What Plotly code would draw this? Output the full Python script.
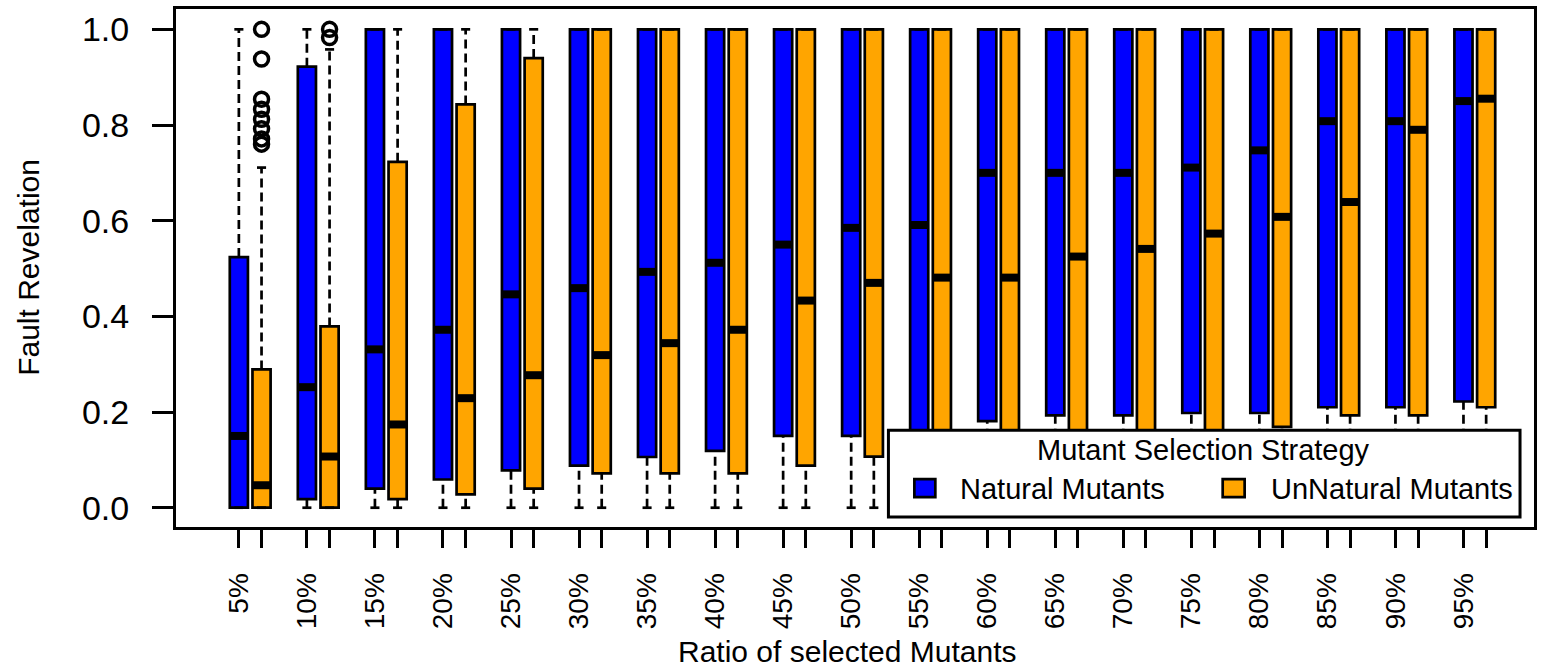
import plotly.graph_objects as go

# ---------------- data ----------------
categories = ["5%", "10%", "15%", "20%", "25%", "30%", "35%", "40%", "45%", "50%",
              "55%", "60%", "65%", "70%", "75%", "80%", "85%", "90%", "95%"]

natural_q1 = [0.0, 0.018, 0.040, 0.059, 0.078, 0.088, 0.106, 0.119, 0.150, 0.150,
              0.160, 0.181, 0.193, 0.193, 0.198, 0.198, 0.210, 0.210, 0.222]
natural_med = [0.150, 0.252, 0.331, 0.372, 0.446, 0.459, 0.493, 0.512, 0.550, 0.585,
               0.591, 0.700, 0.700, 0.700, 0.711, 0.747, 0.808, 0.808, 0.850]
natural_q3 = [0.524, 0.922, 1.0, 1.0, 1.0, 1.0, 1.0, 1.0, 1.0, 1.0,
              1.0, 1.0, 1.0, 1.0, 1.0, 1.0, 1.0, 1.0, 1.0]
natural_lo = [0.0] * 19
natural_hi = [1.0] * 19

unnatural_q1 = [0.0, 0.0, 0.018, 0.028, 0.040, 0.072, 0.072, 0.072, 0.088, 0.107,
                0.130, 0.140, 0.150, 0.150, 0.160, 0.169, 0.193, 0.193, 0.210]
unnatural_med = [0.047, 0.107, 0.174, 0.229, 0.277, 0.319, 0.344, 0.372, 0.433, 0.470,
                 0.481, 0.481, 0.525, 0.541, 0.573, 0.608, 0.639, 0.790, 0.855]
unnatural_q3 = [0.289, 0.379, 0.723, 0.843, 0.940, 1.0, 1.0, 1.0, 1.0, 1.0,
                1.0, 1.0, 1.0, 1.0, 1.0, 1.0, 1.0, 1.0, 1.0]
unnatural_lo = [0.0] * 19
unnatural_hi = [0.711, 0.958, 1.0, 1.0, 1.0, 1.0, 1.0, 1.0, 1.0, 1.0,
                1.0, 1.0, 1.0, 1.0, 1.0, 1.0, 1.0, 1.0, 1.0]

# outliers of the UnNatural series (category, value)
outlier_cat = ["5%"] * 8 + ["10%"] * 2
outlier_val = [1.0, 0.938, 0.854, 0.833, 0.812, 0.792, 0.771, 0.760, 1.0, 0.983]

y_ticks = [0.0, 0.2, 0.4, 0.6, 0.8, 1.0]

# ---------------- layout helpers ----------------
BLUE = "#0000FF"
ORANGE = "#FFA500"
BOX_W = 0.8
STAPLE_W = 0.4
FONT = "Liberation Sans, Arial, sans-serif"

n = len(categories)
pos_nat = [3 * i + 1 for i in range(n)]
pos_unn = [3 * i + 2 for i in range(n)]
cat_pos = {c: p for c, p in zip(categories, pos_unn)}

fig = go.Figure()


def add_series(pos, q1, med, q3, lo, hi, color):
    # boxes
    fig.add_trace(go.Bar(
        x=pos, base=q1, y=[b - a for a, b in zip(q1, q3)], width=BOX_W,
        marker=dict(color=color, line=dict(color="black", width=2.7)),
        showlegend=False, hoverinfo="skip"))
    # whiskers (dashed)
    wx, wy = [], []
    for p, a, b, l, h in zip(pos, q1, q3, lo, hi):
        if h > b:
            wx += [p, p, None]
            wy += [b, h, None]
        if l < a:
            wx += [p, p, None]
            wy += [l, a, None]
    fig.add_trace(go.Scatter(x=wx, y=wy, mode="lines",
                             line=dict(color="black", width=2.7, dash="9px,5px"),
                             showlegend=False, hoverinfo="skip"))
    # staples
    sx, sy = [], []
    for p, l, h in zip(pos, lo, hi):
        for v in (l, h):
            sx += [p - STAPLE_W / 2, p + STAPLE_W / 2, None]
            sy += [v, v, None]
    fig.add_trace(go.Scatter(x=sx, y=sy, mode="lines",
                             line=dict(color="black", width=2.7),
                             showlegend=False, hoverinfo="skip"))
    # medians
    mx, my = [], []
    for p, m in zip(pos, med):
        mx += [p - BOX_W / 2, p + BOX_W / 2, None]
        my += [m, m, None]
    fig.add_trace(go.Scatter(x=mx, y=my, mode="lines",
                             line=dict(color="black", width=8),
                             showlegend=False, hoverinfo="skip"))


add_series(pos_nat, natural_q1, natural_med, natural_q3, natural_lo, natural_hi, BLUE)
add_series(pos_unn, unnatural_q1, unnatural_med, unnatural_q3, unnatural_lo, unnatural_hi, ORANGE)

fig.add_trace(go.Scatter(
    x=[cat_pos[c] for c in outlier_cat], y=outlier_val, mode="markers",
    marker=dict(symbol="circle-open", size=14, color="black", line=dict(width=3.5, color="black")),
    showlegend=False, hoverinfo="skip"))

tickvals = []
ticktext = []
for c, a, b in zip(categories, pos_nat, pos_unn):
    tickvals += [a, b]
    ticktext += [c, ""]

# pixel -> paper helpers for plot area (left 176, right 1537, top 8, bottom 527)
PL, PR, PT, PB = 176, 1537, 8, 527


def px(x):
    return (x - PL) / (PR - PL)


def py(y):
    return (PB - y) / (PB - PT)


shapes = [
    dict(type="rect", xref="paper", yref="paper", x0=px(890), x1=px(1523), y0=py(517), y1=py(430),
         line=dict(color="black", width=3), fillcolor="white", layer="above"),
    dict(type="rect", xref="paper", yref="paper", x0=px(916), x1=px(937), y0=py(497), y1=py(479),
         line=dict(color="black", width=2.7), fillcolor=BLUE, layer="above"),
    dict(type="rect", xref="paper", yref="paper", x0=px(1225), x1=px(1247), y0=py(497), y1=py(479),
         line=dict(color="black", width=2.7), fillcolor=ORANGE, layer="above"),
]

annotations = [
    dict(text="Mutant Selection Strategy", xref="paper", yref="paper", x=px(1206), y=py(450),
         xanchor="center", yanchor="middle", showarrow=False, font=dict(size=29, color="black", family=FONT)),
    dict(text="Natural Mutants", xref="paper", yref="paper", x=px(960), y=py(489),
         xanchor="left", yanchor="middle", showarrow=False, font=dict(size=29, color="black", family=FONT)),
    dict(text="UnNatural Mutants", xref="paper", yref="paper", x=px(1271), y=py(489),
         xanchor="left", yanchor="middle", showarrow=False, font=dict(size=29, color="black", family=FONT)),
    dict(text="Ratio of selected Mutants", xref="paper", yref="paper", x=px(849), y=py(652),
         xanchor="center", yanchor="middle", showarrow=False, font=dict(size=30, color="black", family=FONT)),
    dict(text="Fault Revelation", xref="paper", yref="paper", x=px(28), y=py(267), textangle=-90,
         xanchor="center", yanchor="middle", showarrow=False, font=dict(size=30, color="black", family=FONT)),
]

fig.update_layout(
    width=1543, height=671,
    margin=dict(l=PL, r=1543 - PR, t=PT, b=671 - PB, pad=0),
    paper_bgcolor="white", plot_bgcolor="white",
    barmode="overlay",
    showlegend=False,
    shapes=shapes,
    annotations=annotations,
    font=dict(family=FONT, color="black"),
    xaxis=dict(
        range=[-1.772, 58.11], tickmode="array", tickvals=tickvals, ticktext=ticktext,
        tickangle=-90, ticks="outside", ticklen=18, tickwidth=2.5, tickcolor="black",
        tickfont=dict(size=28, color="black", family=FONT), ticklabelstandoff=14,
        showline=True, linecolor="black", linewidth=3, mirror=True,
        showgrid=False, zeroline=False, fixedrange=True),
    yaxis=dict(
        range=[-0.0403, 1.0425], tickmode="array", tickvals=y_ticks,
        ticktext=[f"{v:.1f}" for v in y_ticks],
        ticks="outside", ticklen=21, tickwidth=2.5, tickcolor="black",
        tickfont=dict(size=34, color="black", family=FONT), ticklabelstandoff=16,
        showline=True, linecolor="black", linewidth=3, mirror=True,
        showgrid=False, zeroline=False, fixedrange=True),
)

fig.write_html("out.html", config={"displayModeBar": False},
               post_script="document.body.style.margin='0';document.body.style.overflow='hidden';")
